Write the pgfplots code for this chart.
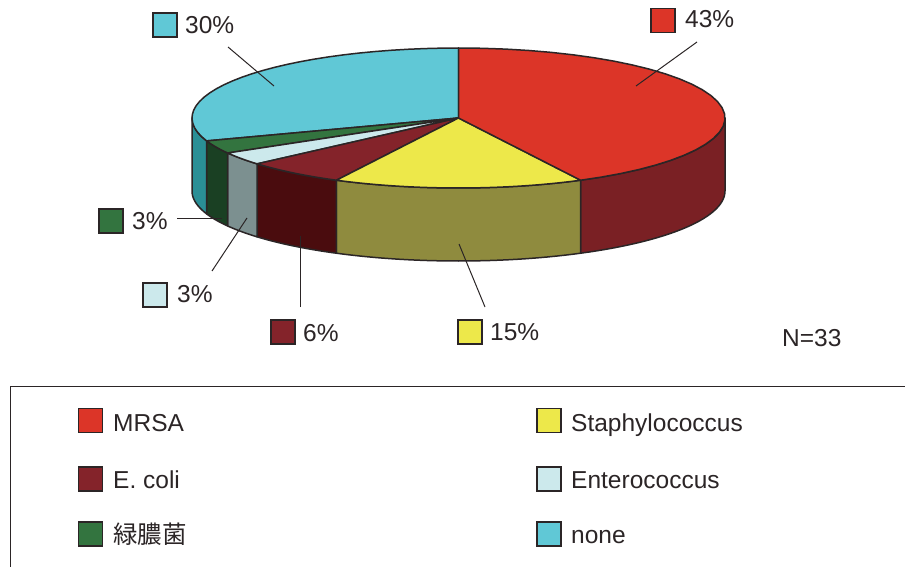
\documentclass[border=0pt]{standalone}
\usepackage{pgfplots}
\pgfplotsset{compat=1.18}
\usepackage{fontspec}
\setmainfont{Liberation Sans}
\newfontfamily\cjk{Noto Sans CJK JP}

\definecolor{inkline}{HTML}{2B2526}
\definecolor{topA}{HTML}{DC3528}\definecolor{wallA}{HTML}{7A2024}
\definecolor{topB}{HTML}{EDE84A}\definecolor{wallB}{HTML}{8F8B3E}
\definecolor{topC}{HTML}{84232A}\definecolor{wallC}{HTML}{4A0C0E}
\definecolor{topD}{HTML}{CCE9EC}\definecolor{wallD}{HTML}{7C9090}
\definecolor{topE}{HTML}{33743F}\definecolor{wallE}{HTML}{1A4023}
\definecolor{topF}{HTML}{60C8D6}\definecolor{wallF}{HTML}{2A8F96}

% Pie geometry: centre, radii of the ellipse, depth of the wall
\def\cx{458.5}\def\cy{118}\def\rx{266.5}\def\ry{70}\def\dep{73}

% \arcpts{from}{to}{y offset}: appends an elliptical arc to \pts
\newcommand{\arcpts}[3]{%
  \foreach \k in {0,...,30}{%
    \pgfmathsetmacro\ang{#1+(#2-#1)*\k/30}%
    \pgfmathsetmacro\px{\cx+\rx*sin(\ang)}%
    \pgfmathsetmacro\py{\cy-\ry*cos(\ang)+#3}%
    \xdef\pts{\pts (\px,\py)}%
  }%
}
% One sector out of N=33: its wall and its top face
\newcommand{\wallslice}[3]{%
  \pgfmathsetmacro\aS{max(#2,90)}\pgfmathsetmacro\aE{min(#3,270)}%
  \gdef\pts{}\arcpts{\aS}{\aE}{0}\arcpts{\aE}{\aS}{\dep}%
  \edef\cmd{\noexpand\addplot[fill=#1,draw=inkline,line width=1.5pt,line join=round] coordinates {\pts} -- cycle;}%
  \cmd
}
\newcommand{\topslice}[3]{%
  \gdef\pts{(\cx,\cy)}\arcpts{#2}{#3}{0}%
  \edef\cmd{\noexpand\addplot[fill=#1,draw=inkline,line width=1.5pt,line join=round] coordinates {\pts} -- cycle;}%
  \cmd
}
% Sector boundaries, in degrees, from the case counts 14, 5, 2, 1, 1, 10 of 33
\pgfmathsetmacro\bA{14*360/33}
\pgfmathsetmacro\bB{19*360/33}
\pgfmathsetmacro\bC{21*360/33}
\pgfmathsetmacro\bD{22*360/33}
\pgfmathsetmacro\bE{23*360/33}

\newcommand{\swatch}[3]{% colour, left, top
  \draw[fill=#1,draw=inkline,line width=1.2pt] (axis cs:#2,#3) rectangle (axis cs:#2+24,#3+24);
}
\newcommand{\lab}[3]{\node[anchor=base west,inner sep=0pt,text=inkline,font=\fontsize{24.5}{28}\selectfont] at (axis cs:#1,#2) {#3};}

\begin{document}
\begin{tikzpicture}
\useasboundingbox (0,0) rectangle (905pt,567pt);
\begin{axis}[
  at={(0,0)}, anchor=south west,
  width=905pt, height=567pt, scale only axis,
  xmin=0, xmax=905, ymin=0, ymax=567, y dir=reverse,
  hide axis, clip=false]

% walls, front half of the disc
\wallslice{wallA}{0}{\bA}
\wallslice{wallB}{\bA}{\bB}
\wallslice{wallC}{\bB}{\bC}
\wallslice{wallD}{\bC}{\bD}
\wallslice{wallE}{\bD}{\bE}
\wallslice{wallF}{\bE}{360}
% top faces
\topslice{topF}{\bE}{360}
\topslice{topE}{\bD}{\bE}
\topslice{topD}{\bC}{\bD}
\topslice{topC}{\bB}{\bC}
\topslice{topB}{\bA}{\bB}
\topslice{topA}{0}{\bA}

% leader lines
\draw[inkline,line width=1pt] (axis cs:697,42) -- (axis cs:636,86);
\draw[inkline,line width=1pt] (axis cs:228,47) -- (axis cs:274,86);
\draw[inkline,line width=1pt] (axis cs:485,307) -- (axis cs:459,244);
\draw[inkline,line width=1pt] (axis cs:300.5,307) -- (axis cs:300.5,236);
\draw[inkline,line width=1pt] (axis cs:212,271) -- (axis cs:247,218);
\draw[inkline,line width=1pt] (axis cs:177,218) -- (axis cs:222,218);

% slice labels
\swatch{topA}{651}{8.5} \lab{685}{28}{43\%}
\swatch{topF}{153}{13}  \lab{185}{34}{30\%}
\swatch{topE}{99}{209}  \lab{132}{229.5}{3\%}
\swatch{topD}{143}{283} \lab{177}{302}{3\%}
\swatch{topC}{271}{320} \lab{303}{341.5}{6\%}
\swatch{topB}{458}{320} \lab{490}{340}{15\%}
\lab{782}{346}{N=33}

% legend frame, open towards the right and bottom edges
\draw[inkline,line width=1pt] (axis cs:905,386.5) -- (axis cs:10.5,386.5) -- (axis cs:10.5,567);
\swatch{topA}{78.5}{408.5} \lab{113}{431}{MRSA}
\swatch{topC}{78.5}{467}   \lab{113}{488}{E. coli}
\swatch{topE}{78.5}{522}   \lab{113}{543}{{\cjk 緑膿菌}}
\swatch{topB}{537}{408.5}  \lab{571}{431}{Staphylococcus}
\swatch{topD}{537}{467}    \lab{571}{488}{Enterococcus}
\swatch{topF}{537}{522}    \lab{571}{543}{none}
\end{axis}
\end{tikzpicture}
\end{document}
